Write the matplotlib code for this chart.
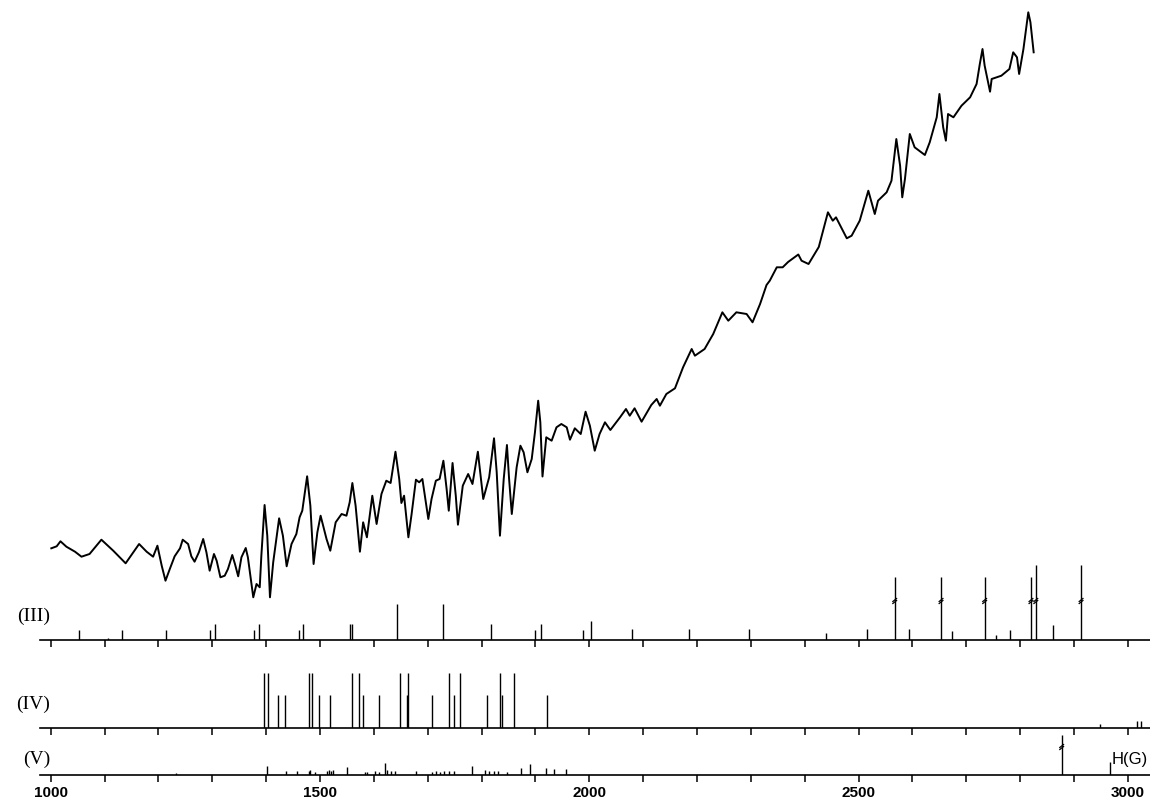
import numpy as np
import matplotlib.pyplot as plt

# --- observed spectrum (cm-1 vs. arbitrary absorbance) ---
wavenumber = [1001, 1011, 1018, 1029, 1045, 1057, 1072, 1094, 1116, 1139, 1164, 1178, 1190,
              1198, 1206, 1213, 1221, 1230, 1240, 1245, 1255, 1261, 1267, 1275, 1283, 1289,
              1295, 1303, 1308, 1315, 1323, 1329, 1337, 1342, 1348, 1354, 1362, 1366, 1376,
              1382, 1388, 1391, 1397, 1402, 1407, 1413, 1424, 1431, 1438, 1447, 1456, 1462,
              1467, 1476, 1482, 1488, 1495, 1501, 1512, 1519, 1529, 1540, 1549, 1555, 1560,
              1566, 1574, 1580, 1587, 1597, 1605, 1614, 1623, 1631, 1640, 1647, 1651, 1656,
              1664, 1670, 1678, 1684, 1690, 1701, 1707, 1715, 1722, 1729, 1735, 1739, 1746,
              1752, 1756, 1765, 1775, 1783, 1793, 1803, 1814, 1823, 1828, 1834, 1841, 1847,
              1851, 1856, 1865, 1872, 1878, 1885, 1893, 1899, 1905, 1909, 1913, 1920, 1930,
              1939, 1948, 1958, 1964, 1973, 1984, 1993, 2001, 2010, 2019, 2029, 2039, 2057,
              2068, 2075, 2084, 2097, 2115, 2125, 2131, 2143, 2159, 2174, 2190, 2196, 2214,
              2230, 2247, 2258, 2273, 2292, 2303, 2317, 2329, 2335, 2348, 2359, 2369, 2388,
              2394, 2407, 2426, 2443, 2452, 2458, 2478, 2487, 2502, 2518, 2530, 2536, 2552,
              2561, 2570, 2577, 2581, 2586, 2595, 2604, 2623, 2632, 2645, 2650, 2657, 2662,
              2666, 2676, 2691, 2707, 2719, 2725, 2730, 2734, 2744, 2747, 2765, 2780, 2787,
              2794, 2798, 2806, 2811, 2815, 2819, 2825]
absorbance = [5.07, 5.27, 5.77, 5.23, 4.73, 4.23, 4.50, 5.93, 4.83, 3.57, 5.50, 4.73, 4.23,
              5.33, 3.33, 1.83, 3.00, 4.27, 5.07, 5.93, 5.50, 4.27, 3.73, 4.67, 6.00, 4.67,
              2.83, 4.50, 3.83, 2.17, 2.33, 3.00, 4.40, 3.50, 2.27, 4.17, 5.10, 4.17, 0.17,
              1.50, 1.17, 4.33, 9.40, 6.33, 0.17, 3.67, 8.07, 6.33, 3.27, 5.50, 6.50, 8.17,
              8.83, 12.27, 9.33, 3.50, 6.67, 8.33, 6.00, 4.83, 7.67, 8.50, 8.33, 9.67, 11.60,
              9.33, 4.73, 7.67, 6.17, 10.33, 7.50, 10.50, 11.83, 11.60, 14.73, 12.00, 9.60, 10.33,
              6.17, 8.50, 11.93, 11.67, 12.00, 8.00, 10.00, 11.83, 12.00, 13.83, 11.00, 8.83, 13.60,
              10.33, 7.43, 11.33, 12.50, 11.50, 14.73, 10.00, 12.17, 16.07, 12.67, 6.33, 12.00, 15.40,
              12.00, 8.50, 13.17, 15.33, 14.67, 12.67, 14.00, 16.67, 19.83, 17.67, 12.25, 16.17, 15.83,
              17.17, 17.50, 17.17, 15.93, 17.07, 16.50, 18.73, 17.33, 14.83, 16.50, 17.67, 16.90, 18.17,
              19.00, 18.33, 19.07, 17.73, 19.40, 20.00, 19.33, 20.50, 21.07, 23.17, 25.00, 24.33, 25.00,
              26.50, 28.67, 27.83, 28.67, 28.50, 27.67, 29.50, 31.40, 31.83, 33.17, 33.17, 33.70, 34.45,
              33.83, 33.50, 35.20, 38.67, 37.83, 38.17, 36.07, 36.33, 37.83, 40.83, 38.50, 39.83, 40.67,
              41.83, 46.00, 43.33, 40.17, 42.00, 46.50, 45.17, 44.40, 45.67, 48.17, 50.50, 47.17, 45.83,
              48.50, 48.17, 49.33, 50.17, 51.50, 53.50, 55.00, 53.33, 50.73, 52.00, 52.33, 53.00, 54.67,
              54.17, 52.50, 55.00, 57.00, 58.67, 57.67, 54.67]

# --- calculated frequencies, model (III) ---
freq_iii = [1053, 1107, 1132, 1214, 1295, 1305, 1378, 1387, 1460, 1469, 1555, 1560, 1642,
            1728, 1817, 1900, 1911, 1989, 2003, 2079, 2185, 2297, 2440, 2515, 2567, 2593,
            2653, 2673, 2734, 2755, 2781, 2820, 2829, 2861, 2913]
int_iii = [10, 2, 10, 10, 10, 16, 10, 16, 10, 16, 16, 16, 36,
           36, 16, 10, 16, 10, 19, 11, 11, 11, 7, 11, 63, 11,
           63, 9, 63, 5, 10, 63, 75, 15, 75]
broken_iii = [2567, 2653, 2734, 2820, 2829, 2913]

# --- model (IV) ---
freq_iv = [1395, 1404, 1421, 1435, 1479, 1485, 1498, 1518, 1560, 1572, 1579, 1609, 1648,
           1661, 1664, 1707, 1740, 1748, 1760, 1810, 1834, 1837, 1861, 1922, 2948, 3017, 3024]
int_iv = [55, 55, 33, 33, 55, 55, 33, 33, 55, 55, 33, 33, 55,
          33, 55, 33, 55, 33, 55, 33, 55, 33, 55, 33, 4, 7, 7]

# --- model (V) ---
freq_v = [1232, 1402, 1436, 1457, 1479, 1482, 1490, 1512, 1516, 1520, 1524, 1550, 1584,
          1588, 1602, 1609, 1620, 1625, 1632, 1640, 1679, 1707, 1715, 1722, 1730, 1739,
          1748, 1782, 1806, 1814, 1823, 1830, 1848, 1874, 1889, 1919, 1935, 1957, 2877, 2967]
int_v = [2, 9, 4, 4, 4, 5, 3, 4, 5, 4, 5, 8, 3,
         3, 4, 3, 12, 5, 4, 4, 4, 3, 4, 3, 4, 4,
         4, 9, 5, 4, 4, 4, 3, 7, 11, 7, 6, 6, 40, 13]
broken_v = [2877]

x_lo, x_hi = 980, 3041
W, H = 1150, 804

fig = plt.figure(figsize=(11.5, 8.04), dpi=100)

# trace
ax = fig.add_axes([40 / W, (H - 600) / H, 1110 / W, 600 / H])
ax.plot(wavenumber, absorbance, color='black', lw=1.4, solid_joinstyle='round')
ax.set_xlim(x_lo, x_hi)
ax.set_ylim(0, 60)
ax.axis('off')


def stick_panel(base_px, height_px, freqs, ints, broken, brk_h, label, last=False):
    a = fig.add_axes([40 / W, (H - base_px) / H, 1110 / W, height_px / H])
    a.vlines(freqs, 0, ints, color='black', lw=1.0)
    # break marks on off-scale lines
    for f in broken:
        a.plot([f - 3.5, f + 3.5], [brk_h - 2.5, brk_h + 0.5], color='black', lw=0.9)
        a.plot([f - 3.5, f + 3.5], [brk_h - 0.5, brk_h + 2.5], color='black', lw=0.9)
    a.set_xlim(x_lo, x_hi)
    a.set_ylim(0, height_px)
    for s in ['top', 'left', 'right']:
        a.spines[s].set_visible(False)
    a.spines['bottom'].set_linewidth(1.2)
    a.set_yticks([])
    ticks = list(range(1000, 3001, 100))
    a.set_xticks(ticks)
    if last:
        a.set_xticklabels([str(t) if t % 500 == 0 else '' for t in ticks],
                          fontfamily='Liberation Sans', fontweight='bold', fontsize=11)
    else:
        a.set_xticklabels([])
    a.tick_params(axis='x', direction='out', length=5, width=1.1, pad=2)
    a.patch.set_alpha(0)
    fig.text(50 / W, 1 - label[1] / H, label[0], ha='right', va='center',
             fontfamily='Liberation Serif', fontsize=14)
    return a


stick_panel(641, 80, freq_iii, int_iii, broken_iii, 39, ('(III)', 616))
stick_panel(729, 60, freq_iv, int_iv, [], 0, ('(IV)', 704))
av = stick_panel(776, 45, freq_v, int_v, broken_v, 28, ('(V)', 759), last=True)
av.text(2970, 16, 'H(G)', ha='left', va='center', fontfamily='Liberation Sans', fontsize=12)

fig.savefig('out.png', dpi=100)
